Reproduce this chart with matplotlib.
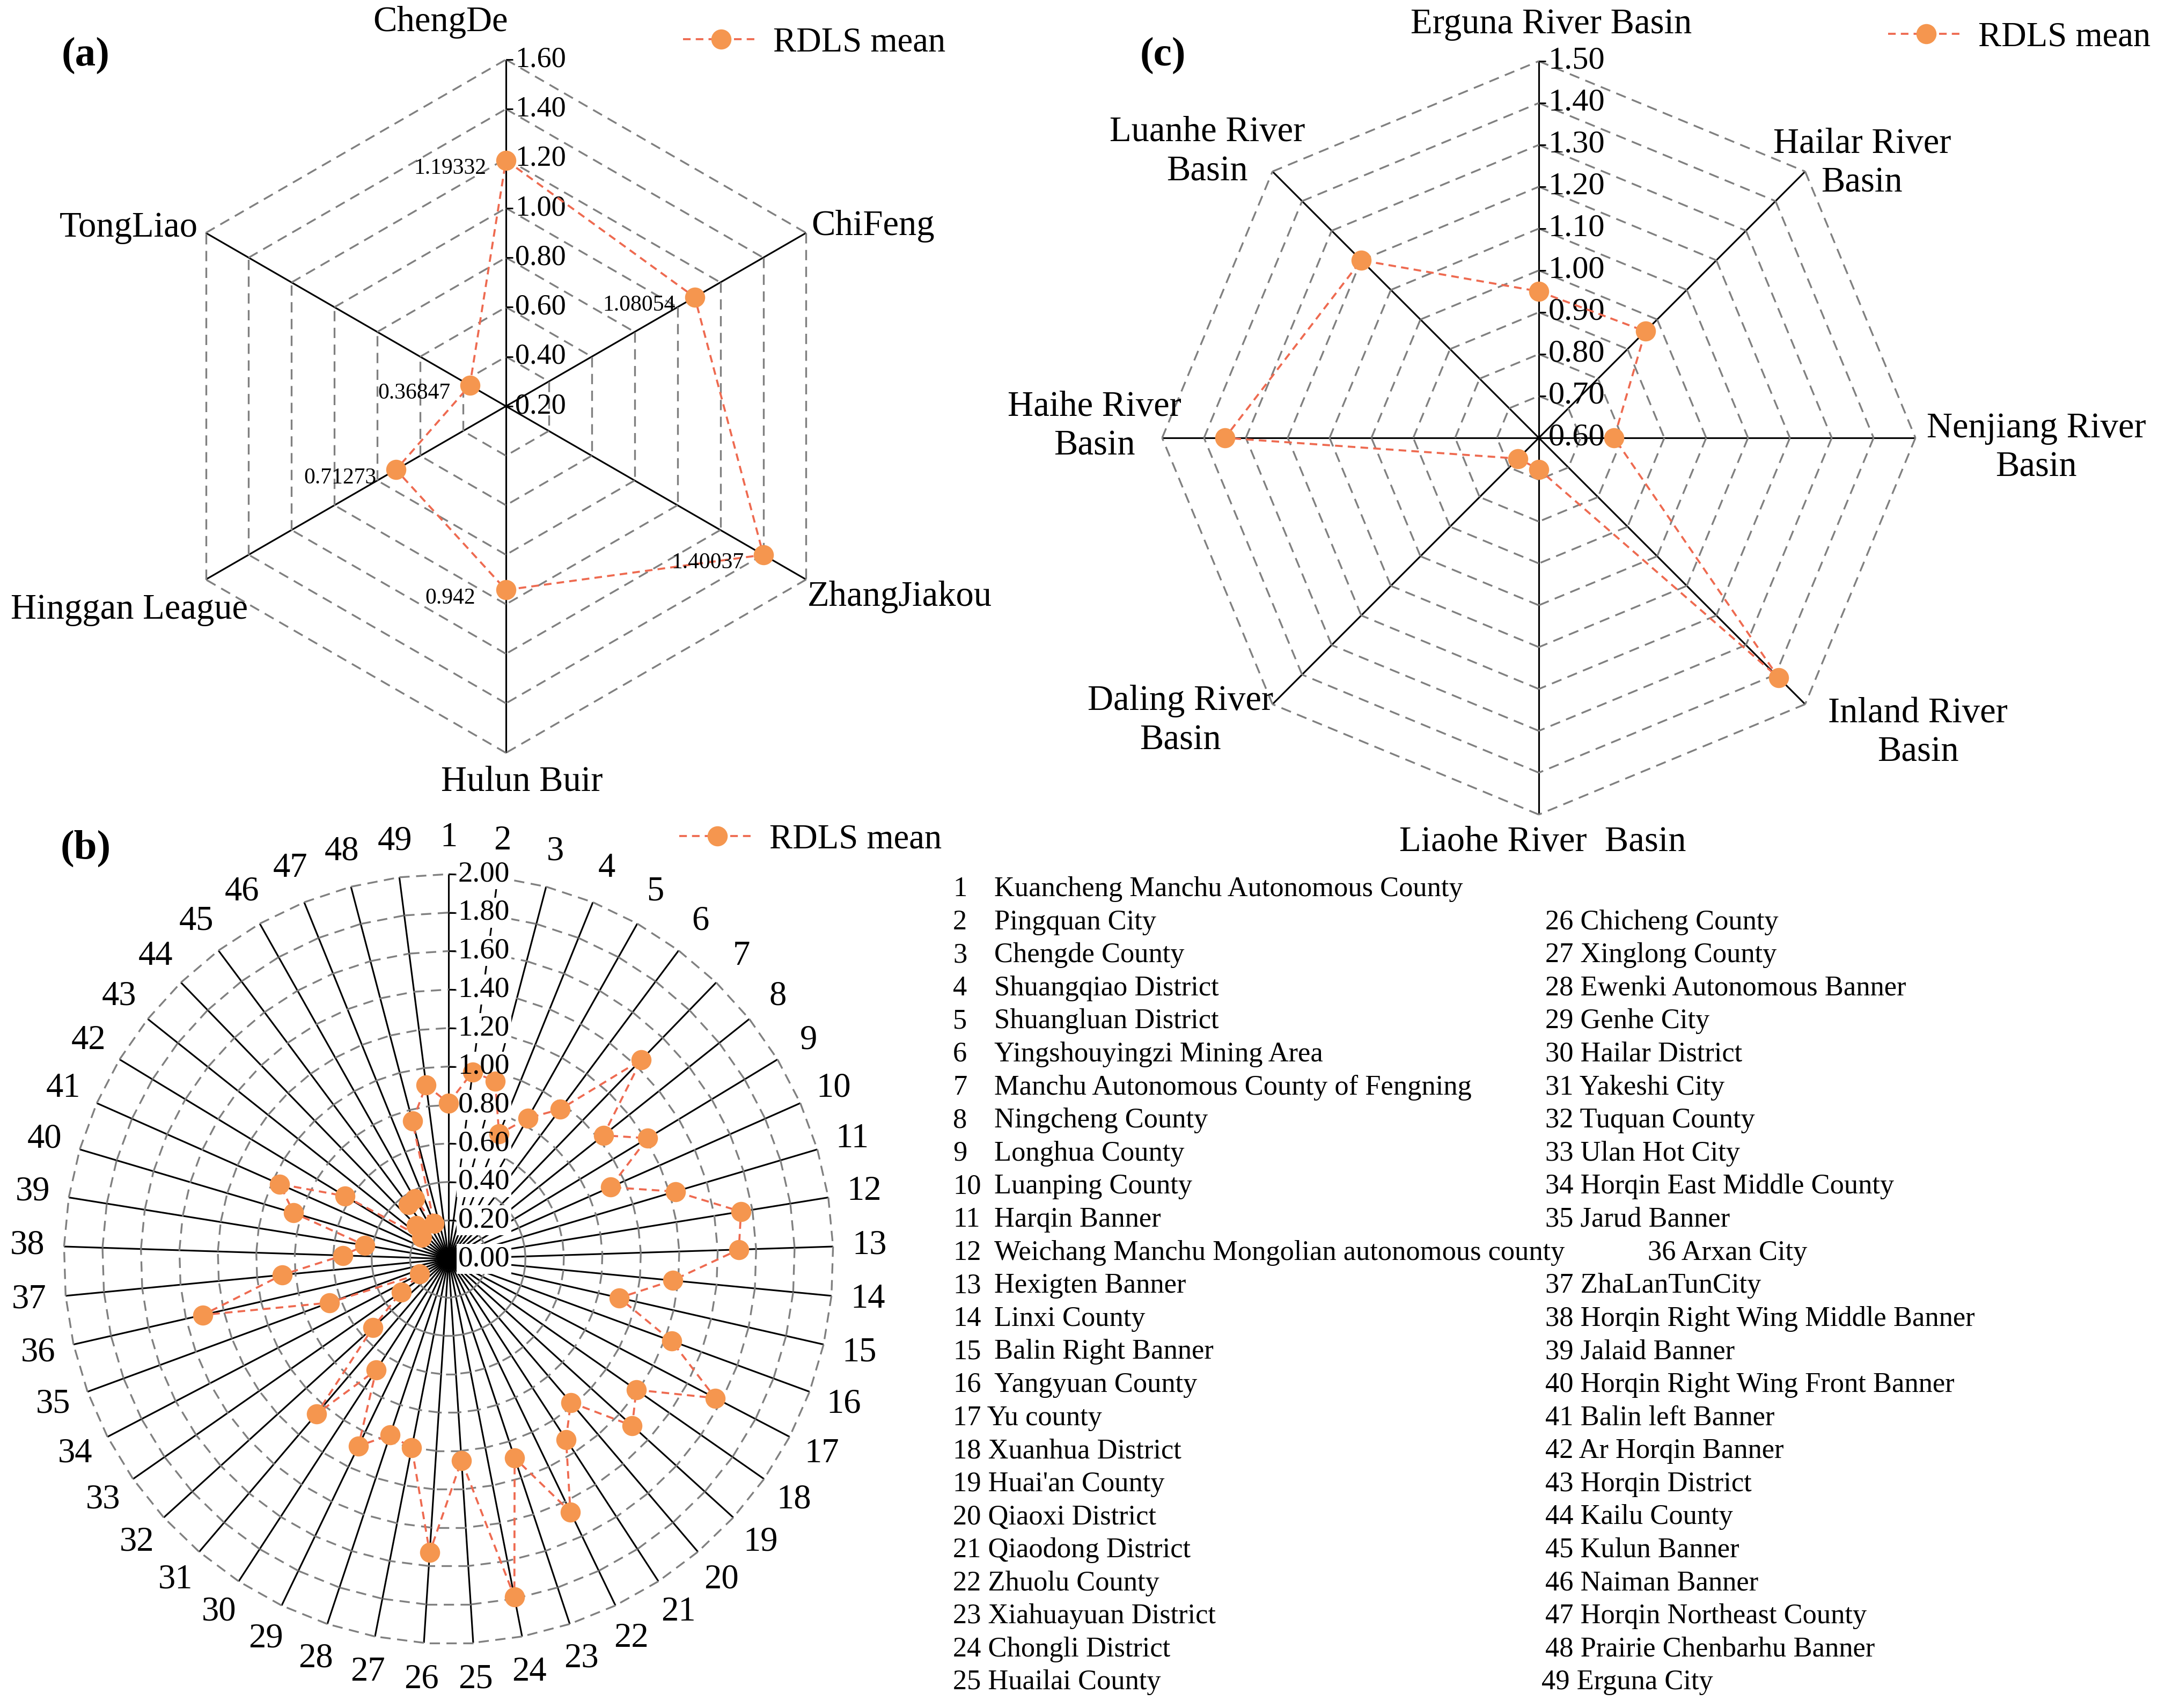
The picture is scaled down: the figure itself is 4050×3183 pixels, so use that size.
import numpy as np
import matplotlib
matplotlib.use("Agg")
import matplotlib.pyplot as plt
from matplotlib.collections import LineCollection
from matplotlib.lines import Line2D

plt.rcParams['font.family'] = ['Liberation Serif', 'DejaVu Serif']
plt.rcParams['lines.scale_dashes'] = False

# ---------------- data ----------------
city_names = ["ChengDe", "ChiFeng", "ZhangJiakou", "Hulun Buir", "Hinggan League", "TongLiao"]
city_rdls = [1.19332, 1.08054, 1.40037, 0.942, 0.71273, 0.36847]
city_value_labels = ["1.19332", "1.08054", "1.40037", "0.942", "0.71273", "0.36847"]
city_ticks = [0.20, 0.40, 0.60, 0.80, 1.00, 1.20, 1.40, 1.60]

basin_names = ["Erguna River Basin", "Hailar River\nBasin", "Nenjiang River\nBasin",
               "Inland River\nBasin", "Liaohe River  Basin", "Daling River\nBasin",
               "Haihe River\nBasin", "Luanhe River\nBasin"]
basin_rdls = [0.95, 0.96, 0.78, 1.41, 0.675, 0.67, 1.35, 1.20]
basin_ticks = [0.60, 0.70, 0.80, 0.90, 1.00, 1.10, 1.20, 1.30, 1.40, 1.50]

county_ids = list(range(1, 50))
county_rdls = [0.81, 0.98, 0.955, 0.70, 0.84, 0.97, 1.44, 1.03, 1.21, 0.92,
               1.23, 1.54, 1.51, 1.17, 0.91, 1.235, 1.565, 1.19, 1.29, 0.98,
               1.12, 1.46, 1.09, 1.79, 1.05, 1.53, 1.00, 0.965, 1.08, 0.69,
               1.06, 0.53, 0.30, 0.17, 0.66, 1.31, 0.87, 0.55, 0.44, 0.84,
               0.96, 0.63, 0.18, 0.24, 0.35, 0.36, 0.20, 0.74, 0.91]
county_ticks = [0.00, 0.20, 0.40, 0.60, 0.80, 1.00, 1.20, 1.40, 1.60, 1.80, 2.00]
county_names = ["Kuancheng Manchu Autonomous County", "Pingquan City", "Chengde County",
                "Shuangqiao District", "Shuangluan District", "Yingshouyingzi Mining Area",
                "Manchu Autonomous County of Fengning", "Ningcheng County", "Longhua County",
                "Luanping County", "Harqin Banner", "Weichang Manchu Mongolian autonomous county",
                "Hexigten Banner", "Linxi County", "Balin Right Banner", "Yangyuan County",
                "Yu county", "Xuanhua District", "Huai'an County", "Qiaoxi District",
                "Qiaodong District", "Zhuolu County", "Xiahuayuan District", "Chongli District",
                "Huailai County", "Chicheng County", "Xinglong County", "Ewenki Autonomous Banner",
                "Genhe City", "Hailar District", "Yakeshi City", "Tuquan County", "Ulan Hot City",
                "Horqin East Middle County", "Jarud Banner", "Arxan City", "ZhaLanTunCity",
                "Horqin Right Wing Middle Banner", "Jalaid Banner", "Horqin Right Wing Front Banner",
                "Balin left Banner", "Ar Horqin Banner", "Horqin District", "Kailu County",
                "Kulun Banner", "Naiman Banner", "Horqin Northeast County",
                "Prairie Chenbarhu Banner", "Erguna City"]

# ---------------- style / layout ----------------
W, H, DPI = 4050, 3183, 300
LINE_C = '#EE6A50'
MARK_C = '#F5964F'
GRID_C = '#808080'
fig = plt.figure(figsize=(W / DPI, H / DPI), dpi=DPI)


def px2fig(x, y):
    return x / W, 1 - y / H


def panel_axes(cx, cy, R):
    ax = fig.add_axes([0, 0, 1, 1])
    ax.set_xlim(-cx / R, (W - cx) / R)
    ax.set_ylim(-(H - cy) / R, cy / R)
    ax.axis('off')
    ax.patch.set_alpha(0)
    return ax


def radar(ax, values, ticks, tick_fs, mask_ticks=False, ms=9):
    n = len(values)
    vmin, vmax = ticks[0], ticks[-1]
    th = np.pi / 2 - 2 * np.pi * np.arange(n) / n
    # spokes
    segs = [[(0, 0), (np.cos(t), np.sin(t))] for t in th]
    ax.add_collection(LineCollection(segs, colors='black', linewidths=0.75, zorder=1,
                                     clip_on=False))
    # rings (each polygon edge dashed separately)
    rsegs = []
    for tv in ticks[1:]:
        rn = (tv - vmin) / (vmax - vmin)
        for i in range(n):
            a, b = th[i], th[(i + 1) % n]
            rsegs.append([(rn * np.cos(a), rn * np.sin(a)), (rn * np.cos(b), rn * np.sin(b))])
    ax.add_collection(LineCollection(rsegs, colors=GRID_C, linewidths=0.8,
                                     linestyles=[(0, (4.6, 2.9))], zorder=1, clip_on=False))
    # tick marks + labels on the vertical axis
    rts = [(tv - vmin) / (vmax - vmin) for tv in ticks]
    ax.plot([0] * len(rts), rts, ls='none', marker=1, ms=3.2, mew=0.7, color='black',
            zorder=2, clip_on=False)
    for tv, rn in zip(ticks, rts):
        if mask_ticks:
            ax.annotate(f"{tv:.2f}", xy=(0, rn), xytext=(4.2, 0), textcoords='offset points',
                        ha='left', va='center', fontsize=tick_fs, color='none', zorder=2.5,
                        bbox=dict(fc='white', ec='none', pad=0.6))
        ax.annotate(f"{tv:.2f}", xy=(0, rn), xytext=(4.2, 0), textcoords='offset points',
                    ha='left', va='center', fontsize=tick_fs, color='black',
                    zorder=6 if mask_ticks else 2)
    # series
    r = (np.asarray(values) - vmin) / (vmax - vmin)
    x, y = r * np.cos(th), r * np.sin(th)
    ax.plot(np.r_[x, x[0]], np.r_[y, y[0]], color=LINE_C, lw=0.9, ls=(0, (3.4, 2.3)),
            zorder=3, clip_on=False)
    ax.plot(x, y, ls='none', marker='o', ms=ms, color=MARK_C, mec='none', zorder=4,
            clip_on=False)
    return x, y


def add_legend(ax, xpx, ypx):
    h = Line2D([], [], color=LINE_C, lw=0.9, ls=(0, (3.4, 2.3)), marker='o', ms=9,
               markerfacecolor=MARK_C, markeredgecolor='none')
    ax.legend(handles=[h], labels=["RDLS mean"], loc='center left',
              bbox_to_anchor=px2fig(xpx, ypx), bbox_transform=fig.transFigure,
              frameon=False, fontsize=15.5, borderpad=0, borderaxespad=0,
              handlelength=2.2, handletextpad=0.4, numpoints=1)


# ---------------- panel (a) ----------------
axA = panel_axes(943, 757, 646)
xa, ya = radar(axA, city_rdls, city_ticks, 13)
city_label_pos = [(-0.189, 1.107), (1.059, 0.520), (1.136, -0.550),
                  (0.046, -1.084), (-1.087, -0.587), (-1.088, 0.514)]
for name, (lx, ly) in zip(city_names, city_label_pos):
    axA.text(lx, ly, name, ha='center', va='center', fontsize=16)
for lbl, px, py in zip(city_value_labels, xa, ya):
    axA.annotate(lbl, xy=(px, py), xytext=(-25, -3.6), textcoords='offset points',
                 ha='center', va='center', fontsize=10, zorder=5)
add_legend(axA, 1273, 80)
fig.text(*px2fig(160, 103), "(a)", fontsize=18.5, fontweight='bold', ha='center', va='center')

# ---------------- panel (c) ----------------
axC = panel_axes(2868, 816, 702)
radar(axC, basin_rdls, basin_ticks, 14.5)
basin_label_pos = [(0.033, 1.097), (0.858, 0.728), (1.321, -0.027), (1.007, -0.783),
                   (0.011, -1.073), (-0.952, -0.751), (-1.179, 0.030), (-0.880, 0.759)]
for name, (lx, ly) in zip(basin_names, basin_label_pos):
    axC.text(lx, ly, name, ha='center', va='center', fontsize=16, linespacing=1.25,
             multialignment='center')
add_legend(axC, 3519, 70)
fig.text(*px2fig(2167, 103), "(c)", fontsize=18.5, fontweight='bold', ha='center', va='center')

# ---------------- panel (b) ----------------
axB = panel_axes(836, 2346, 717)
radar(axB, county_rdls, county_ticks, 13.2, mask_ticks=True)
n = len(county_ids)
thb = np.pi / 2 - 2 * np.pi * np.arange(n) / n
for cid, t in zip(county_ids, thb):
    axB.text(1.095 * np.cos(t), 1.095 * np.sin(t), str(cid), ha='center', va='center',
             fontsize=15.5)
add_legend(axB, 1266, 1565)
fig.text(*px2fig(160, 1581), "(b)", fontsize=18.5, fontweight='bold', ha='center', va='center')

# list of counties
LIST_FS = 12.6
row0, dy = 1657, 61.6
for cid, name in zip(county_ids, county_names):
    if cid <= 25:
        yy = row0 + (cid - 1) * dy
        if cid <= 16:
            fig.text(*px2fig(1776, yy), str(cid), fontsize=LIST_FS, va='center', ha='left')
            fig.text(*px2fig(1853, yy), name, fontsize=LIST_FS, va='center', ha='left')
        else:
            fig.text(*px2fig(1776, yy), f"{cid} {name}", fontsize=LIST_FS, va='center', ha='left')
    else:
        yy = row0 + (cid - 25) * dy
        xx = 3071 if cid == 36 else (2873 if cid == 49 else 2880)
        fig.text(*px2fig(xx, yy), f"{cid} {name}", fontsize=LIST_FS, va='center', ha='left')

fig.savefig("out.png", dpi=DPI, facecolor='white')
